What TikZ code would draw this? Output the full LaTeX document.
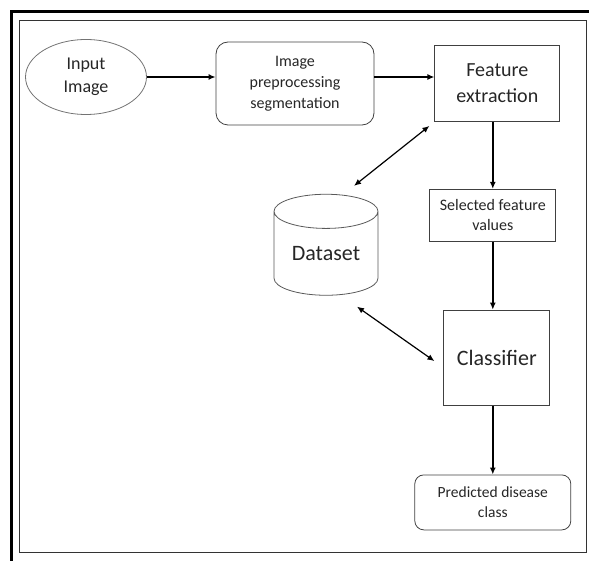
\documentclass[tikz,border=0pt]{standalone}
\usepackage{fontspec}
\setmainfont{Carlito}
\usetikzlibrary{positioning,shapes.geometric,arrows.meta,calc}

\begin{document}
\begin{tikzpicture}[
			x=1pt, y=-1pt
			,every node/.append style={draw=black!75, line width=.8pt, text=black!85, align=center, inner sep=0pt}
			,fs/.style 2 args={font=\fontsize{#1}{#2}\selectfont}
			,box/.style={rectangle}
			,rbox/.style={rectangle, rounded corners=12pt}
			,arr/.style={-{Latex[length=7pt,width=6pt]}, line width=1.6pt}
			,biarr/.style={{Latex[length=7pt,width=6pt]}-{Latex[length=7pt,width=6pt]}, line width=1.2pt}
		]
			\useasboundingbox (0,0) rectangle (589,561);
			% frame
			\draw [line width=2.5pt] (11.5,561) -- (11.5,11.5) -- (589,11.5);
			\draw [line width=1pt, black!80] (19.5,20.5) rectangle (586.5,552);

			\node [ellipse, draw=black!55, minimum width=121pt, minimum height=75pt, fs={18}{23}] (input) at (86,77) {Input\\Image};
			\node [rbox, minimum width=158pt, minimum height=83pt, fs={16}{21}] (prep) at (295,83.5) {Image\\preprocessing\\segmentation};
			\node [box, minimum width=125pt, minimum height=76pt, fs={20}{26}, right=60pt of prep] (feat) {Feature\\extraction};
			\node [box, minimum width=126pt, minimum height=52pt, fs={16}{20}, below=67pt of feat, xshift=-4.5pt] (sel) {Selected feature\\values};
			\node [box, minimum width=106pt, minimum height=95pt, fs={22}{27}, below=68pt of sel, xshift=4pt] (cls) {Classifier};
			\node [rbox, rounded corners=9pt, minimum width=156pt, minimum height=55pt, fs={15.5}{20}, below=69pt of cls, xshift=-4pt] (pred) {Predicted disease\\class};
			\node [cylinder, shape border rotate=90, aspect=0.5, draw=black!65, minimum width=104pt, minimum height=101pt, fs={22}{27}] (data) at (326,253.5) {Dataset};

			% flow
			\draw [arr] (input.east) -- (input.east -| prep.west);
			\draw [arr] (prep.east |- input.east) -- (feat.west |- input.east);
			\draw [arr] (sel.north |- feat.south) -- (sel.north);
			\draw [arr] (sel.south) -- (sel.south |- cls.north);
			\draw [arr] (pred.north |- cls.south) -- (pred.north);

			% dataset links
			\coordinate (d1) at ($(data.north)+(28,-8)$);
			\coordinate (f1) at ($(feat.south west)+(-5,4)$);
			\coordinate (d2) at ($(data.south)+(31,11)$);
			\coordinate (c1) at ($(cls.west)+(-9,3.5)$);
			\draw [biarr] (d1) -- (f1);
			\draw [biarr] (d2) -- (c1);
		\end{tikzpicture}
\end{document}
